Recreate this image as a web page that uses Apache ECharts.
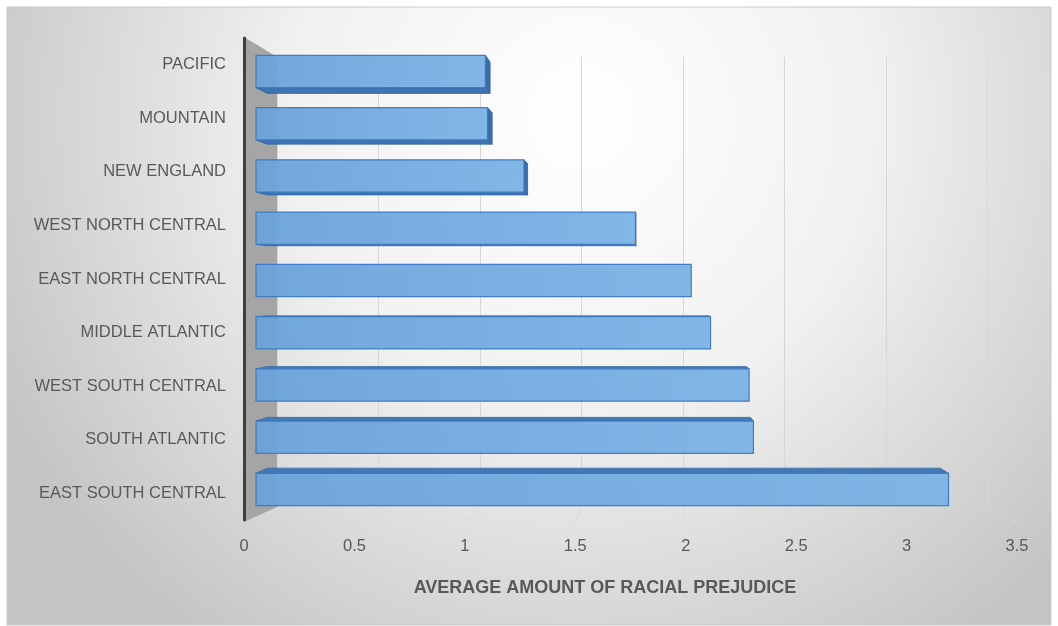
<!DOCTYPE html>
<html><head><meta charset="utf-8">
<script src="https://cdn.jsdelivr.net/npm/echarts@6/dist/echarts.min.js"></script>
<style>html,body{margin:0;padding:0;background:#fff}#c{width:1058px;height:626px}</style>
</head><body><div id="c"></div>
<script>
// ---- data ----
const categories = ['PACIFIC','MOUNTAIN','NEW ENGLAND','WEST NORTH CENTRAL','EAST NORTH CENTRAL','MIDDLE ATLANTIC','WEST SOUTH CENTRAL','SOUTH ATLANTIC','EAST SOUTH CENTRAL'];
const values = [1.07, 1.08, 1.25, 1.77, 2.03, 2.12, 2.30, 2.32, 3.23];
const xTicks = [0, 0.5, 1, 1.5, 2, 2.5, 3, 3.5];
const axisTitle = 'AVERAGE AMOUNT OF RACIAL PREJUDICE';

// ---- layout / style ----
const FONT = '"Liberation Sans", Arial, sans-serif';
const TXT = '#595959';
const VP = [652, 290];   // perspective vanishing point
const R = 0.972;         // bar depth factor
const BACK = {left: 277, right: 987.5, top: 57, bottom: 507};
const FRONT = {left: 244, right: 1017, top: 38, bottom: 520};
const BAR = {left: 256, right: 1006.4, top: 45.4, bottom: 515.6};
const W = 1058, H = 626;

function gridOf(g) { return {left: g.left, top: g.top, width: g.right - g.left, height: g.bottom - g.top, containLabel: false}; }
const xMax = xTicks[xTicks.length - 1];
const xInt = xTicks[1] - xTicks[0];

const chart = echarts.init(document.getElementById('c'), null, {renderer: 'canvas'});

function back(p) { return [VP[0] + (p[0] - VP[0]) * R, VP[1] + (p[1] - VP[1]) * R]; }

function renderBar(params, api) {
  const idx = api.value(1), v = api.value(0);
  const p0 = api.coord([0, idx]), p1 = api.coord([v, idx]);
  const band = api.size([0, 1])[1];
  const h = band * 0.31;
  const x0 = p0[0], x1 = p1[0], yt = p0[1] - h, yb = p0[1] + h;
  const ch = [];
  if (yb < VP[1]) {
    ch.push({type: 'polygon', shape: {points: [[x0, yb], [x1, yb], back([x1, yb]), back([x0, yb])]},
      style: {fill: '#3f73b1', stroke: '#34679f', lineWidth: 0.8}});
  }
  if (yt > VP[1]) {
    ch.push({type: 'polygon', shape: {points: [[x0, yt], [x1, yt], back([x1, yt]), back([x0, yt])]},
      style: {fill: '#4378b6', stroke: '#3a6ea8', lineWidth: 0.8}});
  }
  if (x1 < VP[0]) {
    ch.push({type: 'polygon', shape: {points: [[x1, yt], [x1, yb], back([x1, yb]), back([x1, yt])]},
      style: {fill: '#3a6dab', stroke: '#335f96', lineWidth: 0.8}});
  }
  ch.push({type: 'rect', shape: {x: x0, y: yt, width: x1 - x0, height: yb - yt},
    style: {fill: {type: 'linear', x: 0, y: 0, x2: 1, y2: 0,
      colorStops: [{offset: 0, color: '#6aa3da'}, {offset: 1, color: '#7bb3e6'}]},
      stroke: '#3b79c3', lineWidth: 1.2, opacity: 0.95}});
  return {type: 'group', children: ch};
}

chart.setOption({
  animation: false,
  backgroundColor: 'transparent',
  grid: [gridOf(BACK), gridOf(FRONT), gridOf(BAR)],
  xAxis: [
    {gridIndex: 0, type: 'value', min: 0, max: xMax, interval: xInt,
     axisLabel: {show: false}, axisLine: {show: false}, axisTick: {show: false},
     splitLine: {show: true, lineStyle: {color: '#d6d6d6', width: 1}}},
    {gridIndex: 1, type: 'value', min: 0, max: xMax, interval: xInt,
     axisLine: {show: false}, axisTick: {show: false}, splitLine: {show: false},
     axisLabel: {color: TXT, fontSize: 16.5, fontFamily: FONT, margin: 18}},
    {gridIndex: 2, type: 'value', min: 0, max: xMax, show: false}
  ],
  yAxis: [
    {gridIndex: 0, type: 'category', data: categories, inverse: true, show: false},
    {gridIndex: 1, type: 'category', data: categories, inverse: true,
     axisLine: {show: true, onZero: false, lineStyle: {color: '#3f3f3f', width: 3}},
     axisTick: {show: false},
     axisLabel: {color: TXT, fontSize: 16.5, fontFamily: FONT, margin: 18}},
    {gridIndex: 2, type: 'category', data: categories, inverse: true, show: false}
  ],
  series: [{
    type: 'custom', xAxisIndex: 2, yAxisIndex: 2,
    data: values.map((v, i) => [v, i]),
    encode: {x: 0, y: 1},
    renderItem: renderBar,
    z: 5
  }]
});

// decorations derived from the axes
const floor = xTicks.slice(1).map(t => ({
  type: 'line', z: -50,
  shape: {x1: chart.convertToPixel({xAxisIndex: 0}, t), y1: BACK.bottom,
          x2: chart.convertToPixel({xAxisIndex: 1}, t), y2: FRONT.bottom + 2},
  style: {stroke: '#d8d8d8', lineWidth: 1}
}));
const fx0 = chart.convertToPixel({xAxisIndex: 1}, 0);
const bx0 = chart.convertToPixel({xAxisIndex: 0}, 0);

chart.setOption({
  graphic: [
    {type: 'rect', z: -100, shape: {x: 7, y: 7, width: W - 14, height: H - 8},
     style: {fill: {type: 'radial', x: 0.55, y: 0.18, r: 1.05,
       colorStops: [{offset: 0, color: '#ffffff'}, {offset: 0.45, color: '#f1f1f1'}, {offset: 1, color: '#c4c4c4'}]},
       stroke: '#c9c9c9', lineWidth: 1}},
    {type: 'polygon', z: -50,
     shape: {points: [[fx0, FRONT.top - 1], [bx0, BACK.top], [bx0, BACK.bottom], [fx0, FRONT.bottom + 2]]},
     style: {fill: '#a5a5a5'}},
    ...floor,
    {type: 'text', z: 10, x: 605, y: 588,
     style: {text: axisTitle, textAlign: 'center', textVerticalAlign: 'middle',
       font: 'bold 18px ' + FONT, fill: TXT}}
  ]
});
</script>
</body></html>
